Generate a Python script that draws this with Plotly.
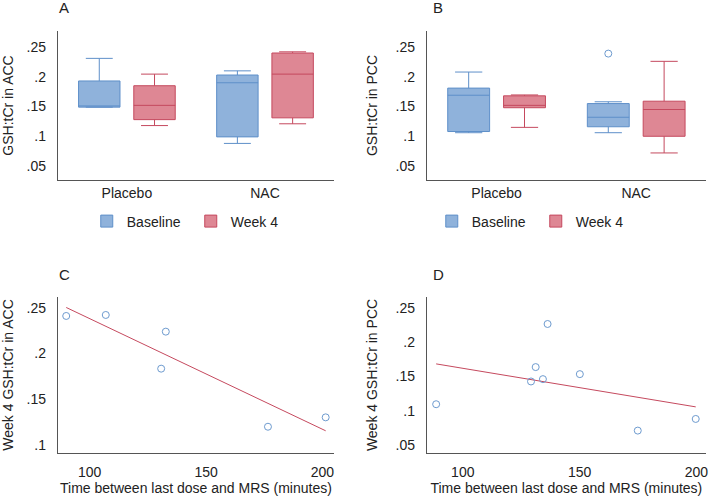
import numpy as np
import plotly.graph_objects as go

# ---------------- data ----------------
groups = ["Placebo", "NAC"]
series_names = ["Baseline", "Week 4"]

# Panel A: GSH:tCr in ACC (box stats per group)
acc_base_low = [0.149, 0.088]
acc_base_q1 = [0.149, 0.099]
acc_base_med = [0.151, 0.190]
acc_base_q3 = [0.193, 0.203]
acc_base_up = [0.231, 0.210]

acc_wk4_low = [0.118, 0.121]
acc_wk4_q1 = [0.128, 0.131]
acc_wk4_med = [0.152, 0.2045]
acc_wk4_q3 = [0.185, 0.240]
acc_wk4_up = [0.2045, 0.242]

# Panel B: GSH:tCr in PCC
pcc_base_low = [0.106, 0.106]
pcc_base_q1 = [0.108, 0.116]
pcc_base_med = [0.169, 0.132]
pcc_base_q3 = [0.181, 0.155]
pcc_base_up = [0.208, 0.158]
pcc_base_outlier_group = ["NAC"]
pcc_base_outlier_val = [0.239]

pcc_wk4_low = [0.115, 0.072]
pcc_wk4_q1 = [0.148, 0.100]
pcc_wk4_med = [0.152, 0.145]
pcc_wk4_q3 = [0.168, 0.159]
pcc_wk4_up = [0.1695, 0.226]

# Panel C: week 4 ACC vs time
time_acc = [89.9, 106.9, 130.7, 132.7, 176.6, 201.4]
gsh_acc = [0.2412, 0.2423, 0.1834, 0.2240, 0.1197, 0.1300]

# Panel D: week 4 PCC vs time
time_pcc = [88.6, 129.2, 131.2, 134.3, 136.3, 150.1, 174.9, 199.7]
gsh_pcc = [0.1095, 0.1427, 0.1637, 0.1461, 0.2266, 0.1534, 0.0710, 0.0880]

# tick labels
box_y_tickvals = [0.05, 0.1, 0.15, 0.2, 0.25]
box_y_ticktext = [".05", ".1", ".15", ".2", ".25"]
c_y_tickvals = [0.1, 0.15, 0.2, 0.25]
c_y_ticktext = [".1", ".15", ".2", ".25"]
d_y_tickvals = [0.05, 0.1, 0.15, 0.2, 0.25]
d_y_ticktext = [".05", ".1", ".15", ".2", ".25"]
time_tickvals = [100, 150, 200]
time_ticktext = ["100", "150", "200"]

# ---------------- styles ----------------
BLUE_FILL = "#8FB2DB"
BLUE_LINE = "#5E8FC9"
RED_FILL = "#DE8794"
RED_LINE = "#C5495E"
MARKER_BLUE = "#6E9BCF"
AXIS_COL = "#555555"
TEXT_COL = "#222222"
FONT = "Liberation Sans, Arial, sans-serif"

OFFSET = 0.2
BOX_W = 0.3

fig = go.Figure()

cat_pos = np.arange(len(groups), dtype=float)


def add_boxes(xa, ya, stats, fills, lines, legend_name, show):
    for k, (st, fc, lc) in enumerate(zip(stats, fills, lines)):
        low, q1, med, q3, up = st
        xs = cat_pos + (OFFSET if k == 1 else -OFFSET)
        fig.add_trace(go.Box(
            x=xs, lowerfence=low, q1=q1, median=med, q3=q3, upperfence=up,
            width=BOX_W, whiskerwidth=0.65, fillcolor=fc,
            line=dict(color=lc, width=1), boxpoints=False,
            name=series_names[k], xaxis=xa, yaxis=ya,
            legend=legend_name, showlegend=show, hoverinfo="skip",
        ))


add_boxes("x", "y",
          [(acc_base_low, acc_base_q1, acc_base_med, acc_base_q3, acc_base_up),
           (acc_wk4_low, acc_wk4_q1, acc_wk4_med, acc_wk4_q3, acc_wk4_up)],
          [BLUE_FILL, RED_FILL], [BLUE_LINE, RED_LINE], "legend", True)
add_boxes("x2", "y2",
          [(pcc_base_low, pcc_base_q1, pcc_base_med, pcc_base_q3, pcc_base_up),
           (pcc_wk4_low, pcc_wk4_q1, pcc_wk4_med, pcc_wk4_q3, pcc_wk4_up)],
          [BLUE_FILL, RED_FILL], [BLUE_LINE, RED_LINE], "legend2", True)

# outlier in panel B
out_x = [cat_pos[groups.index(g)] - OFFSET for g in pcc_base_outlier_group]
fig.add_trace(go.Scatter(
    x=out_x, y=pcc_base_outlier_val, mode="markers", xaxis="x2", yaxis="y2",
    marker=dict(symbol="circle-open", size=7, color=MARKER_BLUE, line=dict(width=1)),
    showlegend=False, hoverinfo="skip"))


def add_scatter_fit(xa, ya, xs, ys):
    xs = np.asarray(xs)
    ys = np.asarray(ys)
    slope, icpt = np.polyfit(xs, ys, 1)
    xl = np.array([xs.min(), xs.max()])
    fig.add_trace(go.Scatter(
        x=xl, y=slope * xl + icpt, mode="lines", xaxis=xa, yaxis=ya,
        line=dict(color=RED_LINE, width=1), showlegend=False, hoverinfo="skip"))
    fig.add_trace(go.Scatter(
        x=xs, y=ys, mode="markers", xaxis=xa, yaxis=ya,
        marker=dict(symbol="circle-open", size=7, color=MARKER_BLUE, line=dict(width=1)),
        showlegend=False, hoverinfo="skip"))


add_scatter_fit("x3", "y3", time_acc, gsh_acc)
add_scatter_fit("x4", "y4", time_pcc, gsh_pcc)

W, H = 709, 497
dom_x_left = [58 / W, 335 / W]
dom_x_right = [428 / W, 708 / W]
dom_y_top = [1 - 180 / H, 1 - 31 / H]
dom_y_bot = [1 - 453 / H, 1 - 297 / H]

tickfont = dict(family=FONT, size=14, color=TEXT_COL)
titlefont = dict(family=FONT, size=14, color=TEXT_COL)

common_axis = dict(showgrid=False, zeroline=False, showline=True, linecolor=AXIS_COL,
                   linewidth=1, mirror=False, tickfont=tickfont, ticks="outside",
                   tickcolor="rgba(0,0,0,0)", ticklabeloverflow="allow")

cat_axis = dict(common_axis, tickmode="array", tickvals=list(cat_pos), ticktext=groups,
                range=[-0.5, len(groups) - 0.5], ticklen=0)

legend_font = dict(family=FONT, size=14, color=TEXT_COL)

fig.update_layout(
    width=W, height=H, margin=dict(l=0, r=0, t=0, b=0),
    paper_bgcolor="white", plot_bgcolor="white",
    font=dict(family=FONT, size=14, color=TEXT_COL),
    boxmode="overlay",
    xaxis=dict(cat_axis, domain=dom_x_left, anchor="y"),
    yaxis=dict(common_axis, domain=dom_y_top, anchor="x", range=[0.0265, 0.277],
               tickmode="array", tickvals=box_y_tickvals, ticktext=box_y_ticktext, ticklen=8,
               title=dict(text="GSH:tCr in ACC", font=titlefont, standoff=14)),
    xaxis2=dict(cat_axis, domain=dom_x_right, anchor="y2"),
    yaxis2=dict(common_axis, domain=dom_y_top, anchor="x2", range=[0.0265, 0.277],
                tickmode="array", tickvals=box_y_tickvals, ticktext=box_y_ticktext, ticklen=8,
                title=dict(text="GSH:tCr in PCC", font=titlefont, standoff=14)),
    xaxis3=dict(common_axis, domain=dom_x_left, anchor="y3", range=[86.3, 205.0],
                tickmode="array", tickvals=time_tickvals, ticktext=time_ticktext, ticklen=6,
                title=dict(text="Time between last dose and MRS (minutes)", font=titlefont, standoff=4)),
    yaxis3=dict(common_axis, domain=dom_y_bot, anchor="x3", range=[0.0909, 0.262],
                tickmode="array", tickvals=c_y_tickvals, ticktext=c_y_ticktext, ticklen=8,
                title=dict(text="Week 4 GSH:tCr in ACC", font=titlefont, standoff=14)),
    xaxis4=dict(common_axis, domain=dom_x_right, anchor="y4", range=[84.6, 204.1],
                tickmode="array", tickvals=time_tickvals, ticktext=time_ticktext, ticklen=6,
                title=dict(text="Time between last dose and MRS (minutes)", font=titlefont, standoff=4)),
    yaxis4=dict(common_axis, domain=dom_y_bot, anchor="x4", range=[0.0383, 0.266],
                tickmode="array", tickvals=d_y_tickvals, ticktext=d_y_ticktext, ticklen=8,
                title=dict(text="Week 4 GSH:tCr in PCC", font=titlefont, standoff=14)),
    legend=dict(orientation="h", x=87 / W, y=1 - 221.5 / H, xanchor="left", yanchor="middle",
                entrywidth=59, entrywidthmode="pixels",
                font=legend_font, bgcolor="rgba(0,0,0,0)"),
    legend2=dict(orientation="h", x=433 / W, y=1 - 221.5 / H, xanchor="left", yanchor="middle",
                 entrywidth=59, entrywidthmode="pixels",
                 font=legend_font, bgcolor="rgba(0,0,0,0)"),
)

panel_labels = ["A", "B", "C", "D"]
label_pos = [(57, 8), (432, 8), (57, 274), (432, 274)]
for lab, (px, py) in zip(panel_labels, label_pos):
    fig.add_annotation(text=lab, xref="paper", yref="paper", x=px / W, y=1 - py / H,
                       xanchor="left", yanchor="middle", showarrow=False,
                       font=dict(family=FONT, size=15, color=TEXT_COL))

fig.write_html("out.html", config={"displayModeBar": False},
               post_script="document.body.style.margin='0';document.body.style.overflow='hidden';")
